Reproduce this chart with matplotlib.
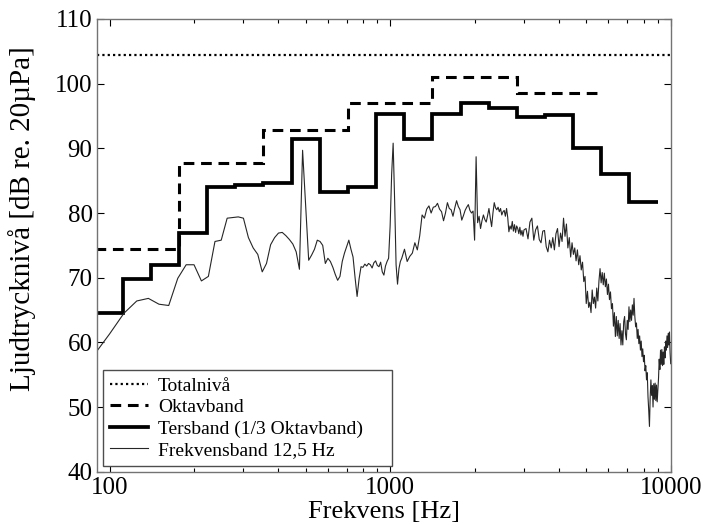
import numpy as np
import matplotlib
matplotlib.use("Agg")
import matplotlib.pyplot as plt
from matplotlib.ticker import FixedLocator, FixedFormatter, NullFormatter

plt.rcParams['font.family'] = ['Liberation Serif', 'DejaVu Serif']

# total level, dB
total_level = 104.4

# octave band levels (centre frequencies in Hz)
octave_centres = [125, 250, 500, 1000, 2000, 4000]
octave_levels = [74.5, 87.7, 92.8, 97.0, 101.1, 98.5]

# third-octave band levels
third_centres = [100, 125, 160, 200, 250, 315, 400, 500, 630, 800, 1000,
                 1250, 1600, 2000, 2500, 3150, 4000, 5000, 6300, 8000]
third_levels = [64.5, 69.8, 72.0, 76.9, 84.0, 84.4, 84.6, 91.5, 83.3, 84.0, 95.3,
                91.4, 95.3, 97.0, 96.3, 94.8, 95.1, 90.0, 86.1, 81.7]

# narrow band spectrum, 87.5-1100 Hz every 12.5 Hz
nb_low = [57.9, 61.3, 64.5, 66.4, 66.8, 65.9, 65.7, 69.9, 72.0, 72.0,
          69.5, 70.2, 75.6, 75.8, 79.2, 79.3, 79.4, 79.2, 76.2, 74.6,
          73.6, 70.9, 72.2, 75.1, 76.2, 76.9, 77.0, 76.5, 75.9, 75.2,
          74.0, 71.3, 89.7, 81.0, 72.7, 73.5, 74.4, 75.8, 75.6, 75.0,
          72.2, 73.0, 72.5, 71.6, 70.5, 69.6, 70.2, 72.5, 73.8, 74.8,
          75.8, 74.4, 73.2, 70.0, 67.1, 69.8, 71.7, 71.6, 72.1, 71.8,
          72.2, 72.0, 71.5, 72.3, 72.6, 71.9, 71.7, 72.4, 70.9, 70.4,
          71.8, 72.5, 73.0, 78.0, 86.0, 90.8, 82.0, 72.0, 69.0, 71.4,
          72.5, 73.0]
# 1125-3000 Hz every 25 Hz
nb_mid = [74.4, 72.5, 73.3, 73.8, 75.4, 74.3, 76.5, 79.7, 79.2, 80.6,
          81.1, 80.0, 80.9, 81.0, 81.5, 80.6, 80.2, 78.8, 80.0, 81.6,
          80.7, 80.5, 79.5, 80.8, 81.9, 81.0, 80.5, 78.9, 79.6, 80.4,
          80.9, 81.3, 80.4, 80.0, 80.3, 75.8, 88.7, 78.5, 79.5, 77.6,
          78.8, 79.7, 79.0, 78.6, 79.6, 80.7, 79.2, 77.9, 80.0, 81.6,
          80.8, 80.5, 80.9, 80.2, 80.7, 79.7, 80.2, 80.4, 79.5, 80.7,
          79.3, 77.1, 78.0, 77.5, 78.7, 77.2, 78.2, 77.0, 78.0, 77.6,
          76.8, 77.8, 76.6, 77.3, 76.4, 77.4]
# 3050-10000 Hz every 50 Hz
nb_high = [77.6, 76.0, 78.6, 79.2, 75.8, 77.4, 78.0, 75.9, 75.4, 77.2,
           77.3, 74.8, 74.0, 75.8, 74.6, 76.2, 74.3, 76.8, 77.6, 74.8,
           76.9, 75.6, 79.2, 76.4, 78.3, 74.6, 76.2, 73.2, 75.4, 73.6,
           74.6, 72.6, 74.3, 72.0, 73.4, 71.2, 72.4, 69.4, 70.2, 66.0,
           67.9, 65.4, 66.2, 64.6, 68.1, 66.0, 67.0, 65.3, 68.4, 66.4,
           69.5, 71.4, 69.2, 70.8, 68.9, 70.7, 68.6, 69.8, 67.4, 69.0,
           66.6, 67.8, 65.2, 66.0, 62.5, 64.6, 60.9, 64.0, 61.0, 63.4,
           60.6, 62.9, 59.6, 61.8, 59.6, 63.2, 64.0, 61.3, 60.4, 63.4,
           62.0, 65.5, 63.2, 65.0, 63.4, 65.8, 64.2, 66.8, 64.0, 62.4,
           63.0, 60.6, 62.0, 59.8, 61.0, 58.8, 60.2, 57.8, 59.0, 57.0,
           58.0, 55.6, 56.4, 54.2, 55.3, 51.6, 49.5, 47.0, 51.5, 54.2,
           51.8, 53.3, 50.0, 53.6, 51.2, 53.7, 51.0, 53.4, 50.8, 52.6,
           54.5, 57.4, 55.8, 58.8, 56.6, 58.9, 56.4, 58.5, 56.6, 59.3,
           57.6, 60.2, 58.8, 61.0, 59.2, 61.4, 59.6, 61.6, 58.4, 56.7]

nb_freq = np.concatenate([87.5 + 12.5 * np.arange(len(nb_low)),
                          1125 + 25 * np.arange(len(nb_mid)),
                          3050 + 50 * np.arange(len(nb_high))])
nb_level = np.array(nb_low + nb_mid + nb_high)

# band edges from the exact base-2 centre frequencies
n3 = np.round(3 * np.log2(np.array(third_centres) / 1000.0))
third_edges = 1000.0 * 2 ** (np.append(n3 - 0.5, n3[-1] + 0.5) / 3)
n1 = np.round(np.log2(np.array(octave_centres) / 1000.0))
oct_edges = 1000.0 * 2 ** np.append(n1 - 0.5, n1[-1] + 0.5)

fig = plt.figure(figsize=(7.04, 5.29), dpi=100)
ax = fig.add_axes([0.1374, 0.1083, 0.8153, 0.8558])

ax.axhline(total_level, color='black', lw=1.6, ls=(0, (1, 1.4)), label='Totalnivå')
ax.stairs(octave_levels, oct_edges, baseline=None, color='black', lw=2.2,
          ls=(0, (3.5, 2.2)), label='Oktavband')
ax.stairs(third_levels, third_edges, baseline=None, color='black', lw=2.7,
          label='Tersband (1/3 Oktavband)')
ax.plot(nb_freq, nb_level, color='0.15', lw=0.8, label='Frekvensband 12,5 Hz')

ax.set_xscale('log')
ax.set_xlim(90, 10000)
ax.set_ylim(40, 110)
ax.set_yticks(np.arange(40, 111, 10))
ax.xaxis.set_major_locator(FixedLocator([100, 1000, 10000]))
ax.xaxis.set_major_formatter(FixedFormatter(['100', '1000', '10000']))
minors = [m * d for d in (100, 1000) for m in range(2, 10)]
ax.xaxis.set_minor_locator(FixedLocator(minors))
ax.xaxis.set_minor_formatter(NullFormatter())
ax.tick_params(which='both', direction='in', top=True, right=True,
               labelsize=18, color='black')
ax.tick_params(axis='x', pad=4)
ax.tick_params(axis='y', pad=3)
ax.tick_params(which='major', length=5, width=0.8)
ax.tick_params(which='minor', length=3, width=0.8)
for s in ax.spines.values():
    s.set_color('0.45')
    s.set_linewidth(1.0)

ax.set_xlabel('Frekvens [Hz]', fontsize=19, labelpad=1)
ax.set_ylabel('Ljudtrycknivå [dB re. 20µPa]', fontsize=21)
ax.yaxis.set_label_coords(-0.105, 0.56)

leg = ax.legend(loc='lower left', bbox_to_anchor=(0.0105, 0.0126, 0.5045, 0.2),
                mode='expand', borderaxespad=0,
                fontsize=14, handlelength=2.0, handletextpad=0.5,
                labelspacing=0.2, fancybox=False, framealpha=1,
                borderpad=0.35)
leg.get_frame().set_edgecolor('0.3')
leg.get_frame().set_linewidth(1.0)

fig.savefig('out.png', dpi=100)
